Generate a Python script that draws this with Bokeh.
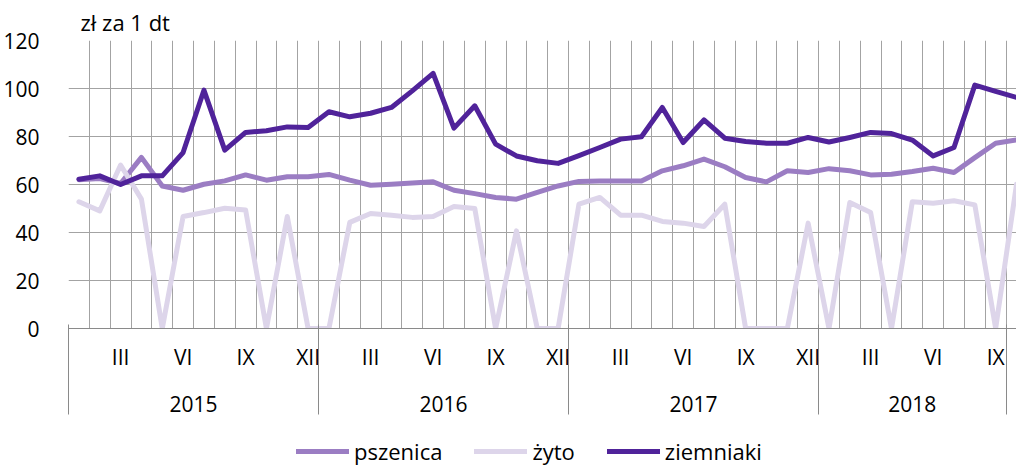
from bokeh.plotting import figure
from bokeh.layouts import column
from bokeh.models import Range1d, LinearAxis, FixedTicker, Grid, Legend, LegendItem
from bokeh.embed import file_html
from bokeh.resources import INLINE

# ---- data (monthly, Jan 2015 .. Oct 2018) ----
years = ["2015", "2016", "2017", "2018"]
year_axis_months = [12, 12, 12, 9]          # months shown per year group on the axis
roman_months = {3: "III", 6: "VI", 9: "IX", 12: "XII"}
y_ticks = [0, 20, 40, 60, 80, 100, 120]

pszenica = [62.0, 62.5, 60.4, 71.3, 59.4, 57.6, 60.1, 61.5, 64.0, 61.8, 63.2, 63.2,
            64.2, 61.8, 59.7, 60.1, 60.6, 61.1, 57.6, 56.2, 54.6, 53.9, 56.7, 59.4,
            61.3, 61.5, 61.5, 61.5, 65.7, 67.8, 70.6, 67.4, 62.9, 61.1, 65.7, 65.0,
            66.6, 65.7, 64.0, 64.3, 65.4, 66.8, 65.0, 71.2, 77.2, 78.6]
zyto = [52.8, 49.0, 68.1, 53.9, 0, 46.7, 48.3, 50.1, 49.4, 0, 46.7, 0,
        0, 44.2, 47.9, 47.2, 46.3, 46.7, 50.8, 50.0, 0, 40.7, 0, 0,
        51.8, 54.6, 47.2, 47.2, 44.6, 43.9, 42.5, 51.8, 0, 0, 0, 43.9,
        0, 52.5, 48.3, 0, 52.8, 52.2, 53.2, 51.5, 0, 60.1]
ziemniaki = [62.2, 63.6, 60.0, 63.6, 63.6, 73.3, 99.3, 74.3, 81.7, 82.4, 84.0, 83.8,
             90.3, 88.2, 89.7, 92.1, 99.0, 106.3, 83.5, 92.8, 76.8, 71.9, 69.9, 68.8,
             72.0, 75.4, 78.9, 79.9, 92.1, 77.5, 86.9, 79.3, 77.9, 77.2, 77.2, 79.6,
             77.7, 79.6, 81.7, 81.2, 78.5, 71.9, 75.4, 101.4, 98.8, 96.3]

series = [("pszenica", pszenica, "#9b7dc3"),
          ("żyto", zyto, "#ddd5ea"),
          ("ziemniaki", ziemniaki, "#50239a")]

x = [i + 0.5 for i in range(len(ziemniaki))]

# axis structure derived from the groups
bounds = [0]
for s in year_axis_months:
    bounds.append(bounds[-1] + s)
year_centers = [bounds[k] + year_axis_months[k] / 2 for k in range(len(years))]
month_ticks, month_over = [], {}
for k, s in enumerate(year_axis_months):
    for m, lab in roman_months.items():
        if m <= s:
            t = bounds[k] + m - 0.5
            month_ticks.append(t)
            month_over[t] = lab
year_over = {}
for c, yname in zip(year_centers, years):
    key = int(c) if c == int(c) else c
    year_over[key] = yname
sep_over = {b: "" for b in bounds}

FONT = "Open Sans"
FS = "21px"
GRID = "#a3a3a3"
AXIS = "#8a8a8a"

p = figure(width=1016, height=436, x_range=Range1d(0, 45.5), y_range=Range1d(0, 120),
           x_axis_type=None, y_axis_type=None, output_backend="svg", toolbar_location=None,
           min_border_left=68, min_border_right=0, min_border_top=40, min_border_bottom=108,
           outline_line_color=None, background_fill_color="white")

p.title.text = "zł za 1 dt"
p.title.text_font = FONT
p.title.text_font_size = "22px"
p.title.text_font_style = "normal"
p.title.text_color = "black"
p.title.align = "left"
p.title.offset = 12
p.title.standoff = 8

p.add_layout(Grid(dimension=0, ticker=FixedTicker(ticks=list(range(0, len(x)))),
                  grid_line_color=GRID, grid_line_width=1))
p.add_layout(Grid(dimension=1, ticker=FixedTicker(ticks=y_ticks),
                  grid_line_color=GRID, grid_line_width=1))

yax = LinearAxis(ticker=FixedTicker(ticks=y_ticks), axis_line_color=None,
                 major_tick_line_color=None, minor_tick_line_color=None,
                 major_label_standoff=23, major_label_text_font=FONT,
                 major_label_text_font_size=FS, major_label_text_color="black")
p.add_layout(yax, "left")

# month labels (axis line = x axis)
ax_m = LinearAxis(ticker=FixedTicker(ticks=month_ticks),
                  major_label_overrides=month_over, major_tick_line_color=None,
                  minor_tick_line_color=None, axis_line_color=AXIS,
                  major_label_standoff=14, major_tick_out=0, major_tick_in=0,
                  major_label_text_font=FONT, major_label_text_font_size=FS,
                  major_label_text_color="black")
p.add_layout(ax_m, "below")

# year labels
ax_y = LinearAxis(ticker=FixedTicker(ticks=year_centers), major_label_overrides=year_over,
                  major_tick_line_color=None, minor_tick_line_color=None,
                  major_tick_out=0, major_tick_in=0,
                  axis_line_color=None, major_label_standoff=22,
                  major_label_text_font=FONT, major_label_text_font_size=FS,
                  major_label_text_color="black")
p.add_layout(ax_y, "below")

# year separators (ticks pointing up to the x axis)
ax_sep = LinearAxis(ticker=FixedTicker(ticks=bounds), major_label_overrides=sep_over,
                    major_tick_line_color=AXIS, axis_line_color=None,
                    minor_tick_line_color=None, major_tick_in=90, major_tick_out=0,
                    major_label_standoff=0, major_label_text_font_size="1px")
p.add_layout(ax_sep, "below")

for name, vals, col in series:
    p.line(x, vals, line_color=col, line_width=5, line_join="round", line_cap="round")

# legend strip below the chart
lg = figure(width=1016, height=30, x_range=Range1d(0, 1), y_range=Range1d(-1000, -999),
            x_axis_type=None, y_axis_type=None, output_backend="svg", toolbar_location=None,
            min_border=0, outline_line_color=None)
items = []
for name, vals, col in series:
    r = lg.line(x, vals, line_color=col, line_width=5, line_cap="round")
    items.append(LegendItem(label=name, renderers=[r]))
legend = Legend(items=items, orientation="horizontal", location=(228, 0),
                glyph_width=53, glyph_height=20, label_standoff=5, spacing=32,
                padding=0, margin=0, border_line_color=None, background_fill_alpha=0,
                label_text_font=FONT, label_text_font_size="22px", label_text_color="black")
lg.add_layout(legend)

layout = column(p, lg, spacing=0)
open("out.html", "w").write(file_html(layout, INLINE))
